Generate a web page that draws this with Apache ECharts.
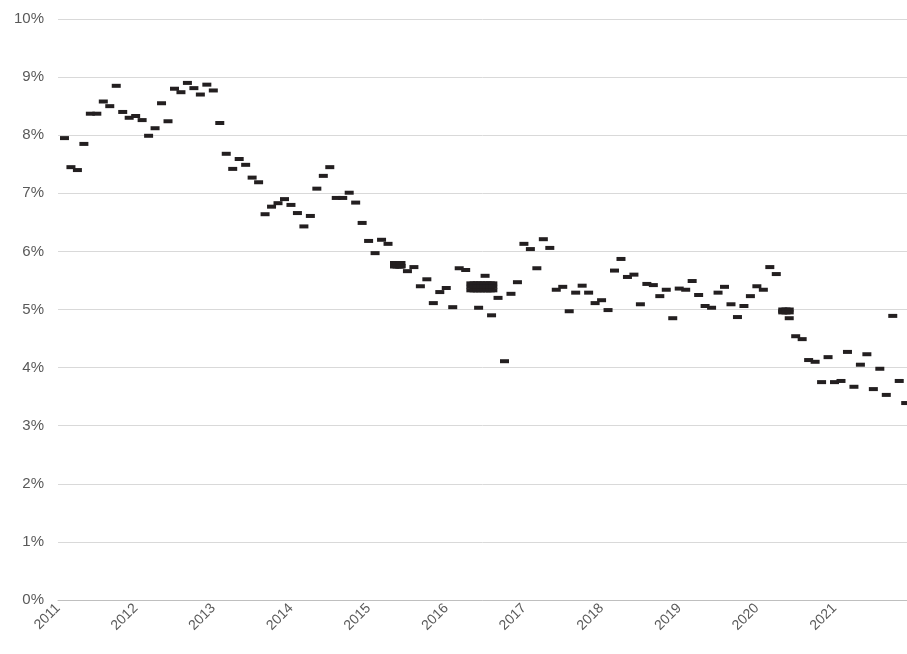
<!DOCTYPE html>
<html>
<head>
<meta charset="utf-8">
<script src="https://cdn.jsdelivr.net/npm/echarts@6/dist/echarts.min.js"></script>
<style>
    html, body {margin: 0; padding: 0; background: #fff;}
    #chart {width: 907px; height: 654px;}
</style>
</head>
<body>
<div id="chart"></div>
<script>
// month index counted from Jan 2011 = 0
const rates = [
    7.95, 7.45, 7.40, 7.85, 8.37, 8.37, 8.58, 8.50, 8.85, 8.40, 8.30, 8.33,
    8.26, 7.99, 8.12, 8.55, 8.24, 8.80, 8.74, 8.90, 8.81, 8.70, 8.87, 8.77,
    8.21, 7.68, 7.42, 7.59, 7.49, 7.27, 7.19, 6.64, 6.77, 6.83, 6.90, 6.80,
    6.66, 6.43, 6.61, 7.08, 7.30, 7.45, 6.92, 6.92, 7.01, 6.84, 6.49, 6.18,
    5.97, 6.20, 6.13, 5.80, 5.75, 5.66, 5.73, 5.40, 5.52, 5.11, 5.30, 5.37,
    5.04, 5.71, 5.68, 5.42, 5.03, 5.58, 4.90, 5.20, 4.11, 5.27, 5.47, 6.13,
    6.04, 5.71, 6.21, 6.06, 5.34, 5.39, 4.97, 5.29, 5.41, 5.29, 5.11, 5.16,
    4.99, 5.67, 5.87, 5.56, 5.60, 5.09, 5.44, 5.42, 5.23, 5.34, 4.85, 5.36,
    5.34, 5.49, 5.25, 5.06, 5.03, 5.29, 5.39, 5.09, 4.87, 5.06, 5.23, 5.40,
    5.34, 5.73, 5.61, 4.97, 4.85, 4.54, 4.49, 4.13, 4.10, 3.75, 4.18, 3.75,
    3.77, 4.27, 3.67, 4.05, 4.23, 3.63, 3.98, 3.53, 4.89, 3.77, 3.39
];
// extra observations that pile up on top of the monthly ones
const extraMonths = [
    51, 51.4, 51.8, 52, 51, 51.4, 51.8, 52,
    62.8, 63.3, 63.8, 64.3, 64.8, 65.3, 65.8, 66.2,
    62.8, 63.3, 63.8, 64.3, 64.8, 65.3, 65.8, 66.2,
    62.8, 63.3, 63.8, 64.3, 64.8, 65.3, 65.8, 66.2,
    111, 111.5, 112, 111, 111.5, 112
];
const extraRates = [
    5.80, 5.80, 5.80, 5.80, 5.74, 5.74, 5.74, 5.74,
    5.45, 5.45, 5.45, 5.45, 5.45, 5.45, 5.45, 5.45,
    5.39, 5.39, 5.39, 5.39, 5.39, 5.39, 5.39, 5.39,
    5.33, 5.33, 5.33, 5.33, 5.33, 5.33, 5.33, 5.33,
    5.00, 5.00, 5.00, 4.95, 4.95, 4.95
];
const yTicks = ['0%', '1%', '2%', '3%', '4%', '5%', '6%', '7%', '8%', '9%', '10%'];

const points = rates.map((v, i) => [i + 1, v]);
extraMonths.forEach((m, k) => points.push([m + 1, extraRates[k]]));

const chart = echarts.init(document.getElementById('chart'));
chart.setOption({
    animation: false,
    grid: {left: 58, right: 0, top: 19, bottom: 54},
    xAxis: {
        type: 'value',
        min: 0,
        max: 131.2,
        interval: 12,
        axisLine: {lineStyle: {color: '#bfbfbf'}},
        axisTick: {show: false},
        splitLine: {show: false},
        axisLabel: {
            rotate: 45,
            showMaxLabel: false,
            color: '#595959',
            fontSize: 14,
            fontFamily: 'Liberation Sans',
            margin: 6,
            formatter: v => String(2011 + v / 12)
        }
    },
    yAxis: {
        type: 'value',
        min: 0,
        max: 10,
        interval: 1,
        axisLine: {show: false},
        axisTick: {show: false},
        splitLine: {lineStyle: {color: '#d9d9d9', width: 1}},
        axisLabel: {
            color: '#595959',
            fontSize: 15,
            fontFamily: 'Liberation Sans',
            margin: 14,
            formatter: v => yTicks[v]
        }
    },
    series: [{
        type: 'scatter',
        data: points,
        symbol: 'rect',
        symbolSize: [9, 4],
        itemStyle: {color: '#231f20', opacity: 1}
    }]
});
</script>
</body>
</html>
